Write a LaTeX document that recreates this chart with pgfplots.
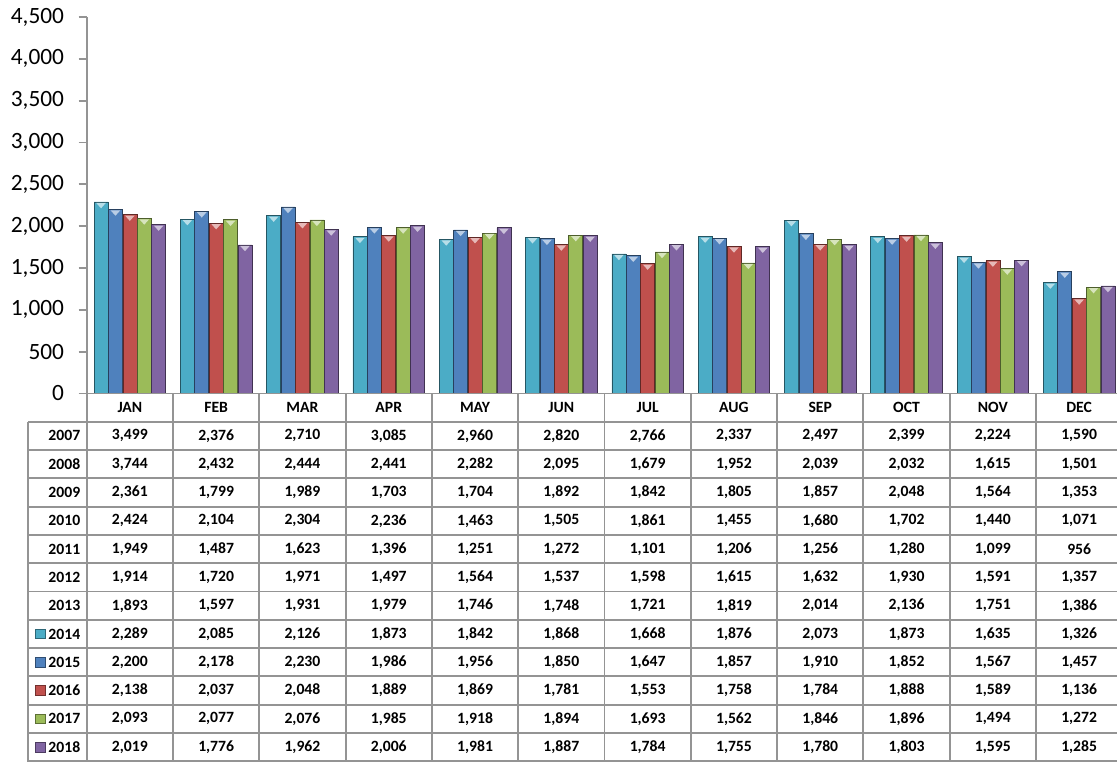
\documentclass[border=0pt]{standalone}
\usepackage{pgfplots}
\pgfplotsset{compat=1.18}
\usepackage{pgfplotstable}
\usepackage{fontspec}
\setmainfont{Carlito}
\usetikzlibrary{shapes.geometric}

\definecolor{c14}{HTML}{4BACC6}
\definecolor{c15}{HTML}{4F81BD}
\definecolor{c16}{HTML}{C0504D}
\definecolor{c17}{HTML}{9BBB59}
\definecolor{c18}{HTML}{8064A2}
\definecolor{linegray}{HTML}{949494}

% rows = months, columns = years
\pgfplotstableread{
m y2007 y2008 y2009 y2010 y2011 y2012 y2013 y2014 y2015 y2016 y2017 y2018
0  3499 3744 2361 2424 1949 1914 1893 2289 2200 2138 2093 2019
1  2376 2432 1799 2104 1487 1720 1597 2085 2178 2037 2077 1776
2  2710 2444 1989 2304 1623 1971 1931 2126 2230 2048 2076 1962
3  3085 2441 1703 2236 1396 1497 1979 1873 1986 1889 1985 2006
4  2960 2282 1704 1463 1251 1564 1746 1842 1956 1869 1918 1981
5  2820 2095 1892 1505 1272 1537 1748 1868 1850 1781 1894 1887
6  2766 1679 1842 1861 1101 1598 1721 1668 1647 1553 1693 1784
7  2337 1952 1805 1455 1206 1615 1819 1876 1857 1758 1562 1755
8  2497 2039 1857 1680 1256 1632 2014 2073 1910 1784 1846 1780
9  2399 2032 2048 1702 1280 1930 2136 1873 1852 1888 1896 1803
10 2224 1615 1564 1440 1099 1591 1751 1635 1567 1589 1494 1595
11 1590 1501 1353 1071  956 1357 1386 1326 1457 1136 1272 1285
}\sales

\pgfkeys{/pgf/number format/.cd, fixed, precision=0, 1000 sep={,}, assume math mode=true}
\newcommand\tabfont{\fontsize{11.75}{13}\selectfont\bfseries}

\pgfplotsset{
  barstyle/.style={fill=#1, draw=#1!50!black, line width=0.45pt,
    nodes near coords={},
    every node near coord/.append style={isosceles triangle, shape border rotate=270,
      isosceles triangle stretches, minimum width=7.2pt, minimum height=4pt,
      inner sep=0pt, fill=#1!40!white, draw=none, anchor=north, yshift=-0.5pt}},
}

\begin{document}
\begin{tikzpicture}
\begin{axis}[
  at={(65.025pt,275.625pt)}, anchor=south west,
  scale only axis,
  width=776.7pt, height=282.375pt,
  xmin=-0.5, xmax=11.5,
  ymin=0, ymax=4500,
  ybar=0.3pt, bar width=10.5pt,
  axis x line=none,
  axis y line=left,
  axis line style={linegray, line width=1.3pt, -},
  xtick=\empty,
  ytick={0,500,...,4500},
  scaled y ticks=false,
  tick align=outside,
  major tick length=6pt,
  ytick style={linegray, line width=1.3pt},
  yticklabel style={font=\fontsize{17.5}{20}\selectfont, text=black, xshift=-7.5pt},
  clip=false,
]
\addplot[barstyle=c14] table[x=m, y=y2014] {\sales};
\addplot[barstyle=c15] table[x=m, y=y2015] {\sales};
\addplot[barstyle=c16] table[x=m, y=y2016] {\sales};
\addplot[barstyle=c17] table[x=m, y=y2017] {\sales};
\addplot[barstyle=c18] table[x=m, y=y2018] {\sales};
\end{axis}

% data table below the chart (units: 1 px of the reference)
\begin{scope}[x=0.75pt, y=0.75pt]
  \draw[linegray, line width=1.4pt] (86.7,367.5) -- (1130,367.5);
  \foreach \r in {0,...,12}
    \draw[linegray, line width=1.4pt] (28,{339.3-\r*28.3}) -- (1130,{339.3-\r*28.3});
  \foreach \k in {0,...,12}
    \draw[linegray, line width=1.4pt] ({86.7+\k*86.3},367.5) -- ({86.7+\k*86.3},-5);
  \draw[linegray, line width=1.4pt] (28,339.3) -- (28,-5);

  \foreach \mn [count=\k from 0] in {JAN,FEB,MAR,APR,MAY,JUN,JUL,AUG,SEP,OCT,NOV,DEC}
    \node[font=\tabfont, inner sep=0pt] at ({86.7+(\k+0.5)*86.3},353.4) {\mn};

  \foreach \yr [count=\r from 0] in {2007,2008,2009,2010,2011,2012,2013,2014,2015,2016,2017,2018} {
    \node[font=\tabfont, anchor=east, inner sep=0pt] at (80.5,{325.15-\r*28.3}) {\yr};
    \foreach \mi in {0,...,11} {
      \pgfplotstablegetelem{\mi}{y\yr}\of\sales
      \node[font=\tabfont, inner sep=0pt] at ({86.7+(\mi+0.5)*86.3},{325.15-\r*28.3})
        {\pgfmathprintnumber{\pgfplotsretval}};
    }
  }
  \foreach \c [count=\r from 7] in {c14,c15,c16,c17,c18}
    \filldraw[fill=\c, draw=\c!60!black, line width=0.4pt]
      (35.5,{325.15-\r*28.3-4.8}) rectangle (45.5,{325.15-\r*28.3+4.8});

  \pgfresetboundingbox
  \path (0,0) rectangle (1117,761);
\end{scope}
\end{tikzpicture}
\end{document}
